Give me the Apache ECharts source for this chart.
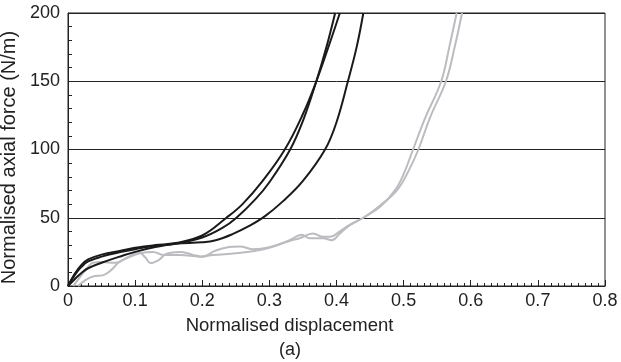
<!DOCTYPE html>
<html><head><meta charset="utf-8">
<script src="https://cdn.jsdelivr.net/npm/echarts@6/dist/echarts.min.js"></script>
<style>html,body{margin:0;padding:0;background:#fff}#c{width:621px;height:362px}</style>
</head><body><div id="c"></div>
<script>
// Data: [normalised displacement, normalised axial force (N/m)]
const black1 = [[0,0],[0.01,8],[0.02,14],[0.03,18],[0.05,21.5],[0.08,25],[0.1,27],[0.13,29.5],[0.16,31],[0.2,35.5],[0.23,42.5],[0.251,50],[0.28,64],[0.3,76],[0.331,100],[0.35,121],[0.37,150],[0.385,175],[0.398,200]];
const black2 = [[0,0],[0.01,9],[0.02,15.5],[0.03,19.5],[0.05,23],[0.08,26],[0.1,28],[0.13,30],[0.16,31.5],[0.2,37],[0.236,50],[0.26,60],[0.29,77],[0.323,100],[0.35,126],[0.37,150],[0.39,178],[0.405,200]];
const black3 = [[0,0],[0.01,5],[0.02,9.5],[0.03,13],[0.05,17],[0.08,22],[0.1,25],[0.13,28.5],[0.16,31],[0.2,32],[0.22,33.5],[0.245,38],[0.27,44],[0.293,51],[0.32,62],[0.35,77],[0.383,100],[0.4,120],[0.417,150],[0.43,175],[0.44,200]];
const grey1 = [[0.008,0],[0.02,8],[0.03,14],[0.037,17],[0.05,17.5],[0.07,17],[0.087,20.5],[0.105,25],[0.115,21],[0.123,16.8],[0.135,19],[0.147,23.7],[0.167,25],[0.185,23],[0.2,21.5],[0.22,26],[0.24,28.5],[0.256,29],[0.275,27],[0.3,28.5],[0.33,33.5],[0.348,37.5],[0.36,35],[0.38,35],[0.393,33.5],[0.405,38.5],[0.42,44.5],[0.44,50],[0.465,58],[0.487,70],[0.5,82],[0.514,100],[0.532,123],[0.556,150],[0.568,175],[0.579,200]];
const grey2 = [[0.015,0],[0.025,4],[0.037,7],[0.053,8],[0.065,12],[0.075,17],[0.09,21],[0.107,24],[0.127,25],[0.142,22.7],[0.167,22.7],[0.197,21.5],[0.216,22.7],[0.25,24],[0.275,25.5],[0.3,28],[0.33,33],[0.345,35],[0.365,38.5],[0.38,36],[0.39,36],[0.405,40],[0.42,45],[0.44,50],[0.465,59],[0.49,70],[0.507,84],[0.522,100],[0.539,123],[0.563,150],[0.576,175],[0.587,200]];
const xTicks = [0,0.1,0.2,0.3,0.4,0.5,0.6,0.7,0.8];
const yTicks = [0,50,100,150,200];

const FONT = 'Liberation Sans';
const chart = echarts.init(document.getElementById('c'), null, {renderer:'canvas'});
const mk = (d, color) => ({type:'line', data:d, smooth:0.4, symbol:'none', clip:true,
  lineStyle:{color, width:2}, itemStyle:{color}});
chart.setOption({
  animation:false,
  grid:{left:68, right:16, top:13, bottom:76, show:true, borderColor:'#222', borderWidth:1, containLabel:false, outerBoundsMode:'none'},
  graphic:[{type:'text', x:290, y:350, style:{text:'(a)', x:0, y:0, align:'center', verticalAlign:'middle', fontFamily:FONT, fontSize:18, fill:'#222'}}],
  xAxis:{type:'value', min:0, max:0.8, interval:0.1,
    name:'Normalised displacement', nameLocation:'middle', nameGap:30,
    nameTextStyle:{fontFamily:FONT, fontSize:18.5, color:'#222', padding:[0,94,0,0]},
    axisLine:{lineStyle:{color:'#222'}},
    axisTick:{inside:true, length:6, lineStyle:{color:'#222'}},
    minorTick:{show:true, splitNumber:10, length:3, lineStyle:{color:'#222'}},
    axisLabel:{fontFamily:FONT, fontSize:18, color:'#222', margin:6,
      formatter:v=>{const t=xTicks.find(a=>Math.abs(a-v)<1e-9); return t===undefined?'':String(t);}},
    splitLine:{show:false}},
  yAxis:{type:'value', min:0, max:200, interval:50,
    name:'Normalised axial force (N/m)', nameLocation:'middle', nameGap:41,
    nameTextStyle:{fontFamily:FONT, fontSize:20, color:'#222', padding:[0,16,0,0]},
    axisLine:{show:true, lineStyle:{color:'#222'}},
    axisTick:{show:true, inside:true, length:6, lineStyle:{color:'#222'}},
    minorTick:{show:true, splitNumber:5, length:4, lineStyle:{color:'#222'}},
    axisLabel:{fontFamily:FONT, fontSize:18, color:'#222', margin:8,
      formatter:v=>{const t=yTicks.find(a=>a===v); return t===undefined?'':String(t);}},
    splitLine:{show:true, lineStyle:{color:'#222', width:1}}},
  series:[mk(grey2,'#bcbcc0'), mk(grey1,'#bcbcc0'), mk(black3,'#1a1a1a'), mk(black2,'#1a1a1a'), mk(black1,'#1a1a1a')]
});
</script></body></html>
